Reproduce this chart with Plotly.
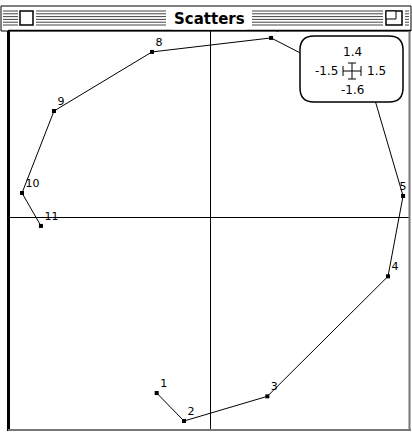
import plotly.graph_objects as go

# ---- data ----
point_labels = ["1", "2", "3", "4", "5", "6", "7", "8", "9", "10", "11"]
x_values = [-0.40, -0.195, 0.43, 1.335, 1.448, 1.215, 0.458, -0.435, -1.17, -1.41, -1.268]
y_values = [-1.315, -1.525, -1.34, -0.44, 0.163, 0.958, 1.348, 1.243, 0.80, 0.185, -0.062]
x_range = [-1.5, 1.5]
y_range = [-1.6, 1.4]
window_title = "Scatters"

# ---- layout geometry (pixels) ----
W, H = 412, 435
L, R, T, B = 10, 2, 31, 4
PW, PH = W - L - R, H - T - B


def px(x):
    return (x - L) / PW


def py(y):
    return (H - B - y) / PH


# labels near the right edge sit above their point so they stay inside the frame
text_positions = ["top center" if xv > 1.4 else "top right" for xv in x_values]

fig = go.Figure()
fig.add_trace(go.Scatter(
    x=x_values, y=y_values, text=point_labels,
    mode="lines+markers+text",
    line=dict(color="black", width=1),
    marker=dict(symbol="square", size=4, color="black"),
    textposition=text_positions,
    textfont=dict(family="DejaVu Sans", size=11, color="black"),
    cliponaxis=False,
    hoverinfo="skip",
))

shapes = []


def line(x0, y0, x1, y1, color="black", width=1):
    shapes.append(dict(type="line", xref="paper", yref="paper",
                       x0=px(x0), y0=py(y0), x1=px(x1), y1=py(y1),
                       line=dict(color=color, width=width), layer="above"))


def rect(x0, y0, x1, y1, fill="white", color="black", width=1):
    shapes.append(dict(type="rect", xref="paper", yref="paper",
                       x0=px(x0), y0=py(y0), x1=px(x1), y1=py(y1),
                       fillcolor=fill, line=dict(color=color, width=width), layer="above"))


# title bar
rect(1, 6, 411, 31, fill="white", color="black", width=1)
stripe_ys = [11, 13.8, 16.6, 19.4, 22.2, 25]
for sy in stripe_ys:
    line(3, sy, 18, sy, color="#444", width=1)
    line(36, sy, 166, sy, color="#444", width=1)
    line(252, sy, 383, sy, color="#444", width=1)
    line(405, sy, 409, sy, color="#444", width=1)
rect(20, 11, 33, 25, fill="white", color="black", width=1.5)
rect(386, 11, 402, 25, fill="white", color="black", width=1.5)
rect(386, 11, 396, 19, fill="white", color="black", width=1)

# content frame
line(8.5, 31, 8.5, 431, width=3)
line(8, 30.5, 411, 30.5, width=1.5)
line(409.5, 31, 409.5, 431, color="#777", width=2)
line(8, 430, 411, 430, color="#777", width=2)

# range box (rounded rectangle)
bx0, by0, bx1, by1, r = 300, 36, 403, 102, 14
path = (f"M {px(bx0 + r)},{py(by0)} L {px(bx1 - r)},{py(by0)} "
        f"Q {px(bx1)},{py(by0)} {px(bx1)},{py(by0 + r)} "
        f"L {px(bx1)},{py(by1 - r)} Q {px(bx1)},{py(by1)} {px(bx1 - r)},{py(by1)} "
        f"L {px(bx0 + r)},{py(by1)} Q {px(bx0)},{py(by1)} {px(bx0)},{py(by1 - r)} "
        f"L {px(bx0)},{py(by0 + r)} Q {px(bx0)},{py(by0)} {px(bx0 + r)},{py(by0)} Z")
shapes.append(dict(type="path", xref="paper", yref="paper", path=path,
                   fillcolor="white", line=dict(color="black", width=1.5), layer="above"))

# crosshair glyph
cx, cy = 352, 71
line(cx, cy - 8, cx, cy + 8)
line(cx - 4, cy - 8, cx + 4, cy - 8)
line(cx - 4, cy + 8, cx + 4, cy + 8)
line(cx - 9, cy, cx + 9, cy)
line(cx - 9, cy - 5, cx - 9, cy + 5)
line(cx + 9, cy - 5, cx + 9, cy + 5)

box_font = dict(family="DejaVu Sans", size=12, color="black")
annotations = [
    dict(text=f"<b>{window_title}</b>", x=px(209), y=py(18.5), xref="paper", yref="paper",
         xanchor="center", yanchor="middle",
         showarrow=False, font=dict(family="DejaVu Sans", size=15, color="black"),
         bgcolor="white", borderpad=1),
    dict(text=f"{y_range[1]:.1f}", x=px(352), y=py(52), xref="paper", yref="paper",
         xanchor="center", yanchor="middle", showarrow=False, font=box_font),
    dict(text=f"{x_range[0]:.1f}", x=px(340), y=py(71), xref="paper", yref="paper",
         xanchor="right", yanchor="middle", showarrow=False, font=box_font),
    dict(text=f"{x_range[1]:.1f}", x=px(365), y=py(71), xref="paper", yref="paper",
         xanchor="left", yanchor="middle", showarrow=False, font=box_font),
    dict(text=f"{y_range[0]:.1f}", x=px(352), y=py(90), xref="paper", yref="paper",
         xanchor="center", yanchor="middle", showarrow=False, font=box_font),
]

fig.update_layout(
    width=W, height=H,
    margin=dict(l=L, r=R, t=T, b=B, pad=0),
    paper_bgcolor="white", plot_bgcolor="white",
    showlegend=False,
    shapes=shapes,
    annotations=annotations,
    xaxis=dict(range=x_range, showgrid=False, zeroline=True, zerolinecolor="black",
               zerolinewidth=1, showticklabels=False, ticks="", fixedrange=True),
    yaxis=dict(range=y_range, showgrid=False, zeroline=True, zerolinecolor="black",
               zerolinewidth=1, showticklabels=False, ticks="", fixedrange=True),
)

fig.write_html("out.html", config={"displayModeBar": False},
               post_script="document.body.style.margin='0';document.body.style.padding='0';")
